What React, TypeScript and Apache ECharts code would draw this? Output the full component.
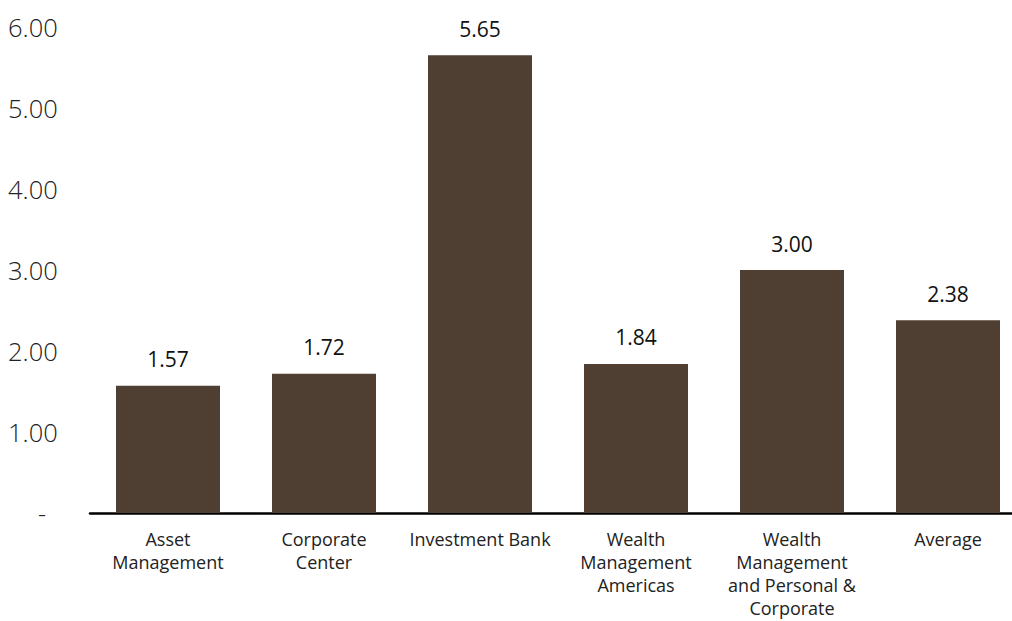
import React, { useEffect, useRef } from "react";
import * as echarts from "echarts";

const categories = [
  "Asset\nManagement",
  "Corporate\nCenter",
  "Investment Bank",
  "Wealth\nManagement\nAmericas",
  "Wealth\nManagement\nand Personal &\nCorporate",
  "Average",
];
const values = [1.57, 1.72, 5.65, 1.84, 3.0, 2.38];
const yMin = 0;
const yMax = 6;
const yStep = 1;

export default function App() {
  const ref = useRef<HTMLDivElement>(null);
  useEffect(() => {
    if (!ref.current) return;
    const chart = echarts.init(ref.current, null, { renderer: "svg" });
    chart.setOption({
      animation: false,
      grid: { left: 90, top: 27, width: 936, height: 486 },
      xAxis: {
        type: "category",
        data: categories,
        boundaryGap: true,
        axisTick: { show: false },
        axisLine: { show: true, lineStyle: { color: "#000", width: 2.5 } },
        axisLabel: {
          interval: 0,
          margin: 14,
          color: "#222",
          fontFamily: "Open Sans",
          fontSize: 18,
          lineHeight: 23,
          verticalAlign: "top",
        },
      },
      yAxis: {
        type: "value",
        min: yMin,
        max: yMax,
        interval: yStep,
        splitLine: { show: false },
        axisLine: { show: false },
        axisTick: { show: false },
        axisLabel: {
          align: "left",
          margin: 82,
          color: "#222",
          fontFamily: "Open Sans",
          fontWeight: 300,
          fontSize: 25.5,
          formatter: (v: number) => (v === 0 ? "{d|-}" : v.toFixed(2)),
          rich: {
            d: {
              padding: [0, 0, 0, 30],
              fontSize: 25,
              fontFamily: "Open Sans",
              fontWeight: 300,
              color: "#222",
            },
          },
        },
      },
      series: [
        {
          type: "bar",
          data: values,
          barWidth: 104,
          itemStyle: { color: "#4F3E32" },
          label: {
            show: true,
            position: "top",
            distance: 16,
            color: "#111",
            fontFamily: "Open Sans",
            fontSize: 21,
            formatter: (p: any) => Number(p.value).toFixed(2),
          },
        },
      ],
    });
    return () => chart.dispose();
  }, []);
  return (
    <div
      style={{ position: "absolute", left: 0, top: 0, width: 1012, height: 621, overflow: "hidden", background: "#fff" }}
    >
      <div ref={ref} style={{ width: 1030, height: 621 }} />
    </div>
  );
}
